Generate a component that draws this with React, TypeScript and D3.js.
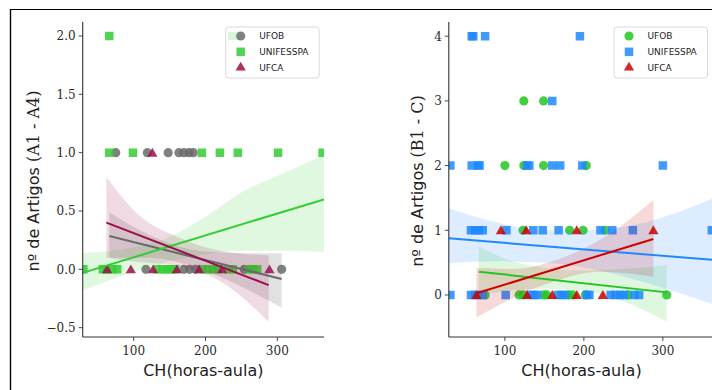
import React from "react";
import * as d3 from "d3";

// ---------- shared labels ----------
const xTicks = [100, 200, 300];
const yTicksA = [-0.5, 0, 0.5, 1.0, 1.5, 2.0];
const yTicksB = [0, 1, 2, 3, 4];
const groupNames = ["UFOB", "UNIFESSPA", "UFCA"];

// ---------- Panel A (A1 - A4) ----------
const ufobA_x = [75, 119, 148, 163, 170, 177, 183, 117, 170, 178, 186, 254, 306];
const ufobA_y = [1, 1, 1, 1, 1, 1, 1, 0, 0, 0, 0, 0, 0];
const unifA_x = [66, 66, 99, 195, 220, 245, 301, 363, 30, 57, 62, 70, 77, 133, 140, 146, 152, 158, 196, 203, 210, 217, 232, 238, 260, 266, 272];
const unifA_y = [2, 1, 1, 1, 1, 1, 1, 1, 0, 0, 0, 0, 0, 0, 0, 0, 0, 0, 0, 0, 0, 0, 0, 0, 0, 0, 0];
const ufcaA_x = [126, 63, 96, 127, 160, 191, 223, 289];
const ufcaA_y = [1, 0, 0, 0, 0, 0, 0, 0];

const ufobA_fitX = [66, 306];
const ufobA_fitY = [0.285, -0.083];
const unifA_fitX = [29, 365];
const unifA_fitY = [-0.03, 0.6];
const ufcaA_fitX = [62, 288];
const ufcaA_fitY = [0.4, -0.135];

const ufobA_bandX = [66, 120, 180, 240, 306];
const ufobA_bandLo = [0.1, 0.1, 0.03, -0.12, -0.33];
const ufobA_bandHi = [0.49, 0.3, 0.17, 0.14, 0.137];
const unifA_bandX = [29, 100, 150, 200, 250, 300, 365];
const unifA_bandLo = [-0.18, -0.02, 0.07, 0.13, 0.16, 0.16, 0.15];
const unifA_bandHi = [0.14, 0.19, 0.28, 0.45, 0.66, 0.8, 0.98];
const ufcaA_bandX = [62, 110, 160, 220, 288];
const ufcaA_bandLo = [0.1, 0.06, 0.03, -0.1, -0.45];
const ufcaA_bandHi = [0.79, 0.45, 0.28, 0.16, 0.12];

// ---------- Panel B (B1 - C) ----------
const ufobB_x = [124, 149, 100, 124, 149, 203, 123, 182, 199, 227, 75, 118, 123, 149, 153, 181, 186, 202, 256, 305];
const ufobB_y = [3, 3, 2, 2, 2, 2, 1, 1, 1, 1, 0, 0, 0, 0, 0, 0, 0, 0, 0, 0];
const unifB_x = [58, 60, 75, 195, 160, 31, 58, 66, 68, 128, 131, 160, 170, 198, 300, 57, 62, 67, 72, 102, 136, 148, 168, 221, 236, 262, 362, 31, 57, 62, 67, 72, 101, 133, 137, 141, 167, 172, 176, 204, 207, 234, 240, 246, 251, 264, 270];
const unifB_y = [4, 4, 4, 4, 3, 2, 2, 2, 2, 2, 2, 2, 2, 2, 2, 1, 1, 1, 1, 1, 1, 1, 1, 1, 1, 1, 1, 0, 0, 0, 0, 0, 0, 0, 0, 0, 0, 0, 0, 0, 0, 0, 0, 0, 0, 0, 0];
const ufcaB_x = [95, 127, 191, 288, 64, 128, 160, 191, 224];
const ufcaB_y = [1, 1, 1, 1, 0, 0, 0, 0, 0];

const ufobB_fitX = [67, 305];
const ufobB_fitY = [0.36, 0.04];
const unifB_fitX = [29, 365];
const unifB_fitY = [0.876, 0.54];
const ufcaB_fitX = [64, 288];
const ufcaB_fitY = [0.026, 0.866];

const ufobB_bandX = [67, 110, 150, 200, 250, 305];
const ufobB_bandLo = [0.0, 0.07, 0.1, 0.06, -0.1, -0.41];
const ufobB_bandHi = [0.75, 0.52, 0.42, 0.38, 0.4, 0.46];
const unifB_bandX = [29, 90, 150, 210, 270, 365];
const unifB_bandLo = [0.49, 0.52, 0.5, 0.4, 0.22, -0.15];
const unifB_bandHi = [1.34, 1.12, 1.0, 1.0, 1.1, 1.5];
const ufcaB_bandX = [64, 110, 160, 220, 288];
const ufcaB_bandLo = [-0.35, -0.05, 0.2, 0.36, 0.28];
const ufcaB_bandHi = [0.42, 0.4, 0.52, 0.85, 1.47];

type Shape = "circle" | "square" | "triangle";
interface Series {
  name: string;
  xs: number[];
  ys: number[];
  fitX: number[];
  fitY: number[];
  bandX: number[];
  bandLo: number[];
  bandHi: number[];
  color: string;
  shape: Shape;
  bandOpacity: number;
}

const shapes: Shape[] = ["circle", "square", "triangle"];
const colorsA = ["#6a6a6a", "#32CD32", "#9C0D4C"];
const colorsB = ["#22C622", "#1E88FF", "#CC0000"];

function mk(
  i: number,
  colors: string[],
  xs: number[], ys: number[], fx: number[], fy: number[],
  bx: number[], bl: number[], bh: number[]
): Series {
  return {
    name: groupNames[i], xs, ys, fitX: fx, fitY: fy, bandX: bx, bandLo: bl, bandHi: bh,
    color: colors[i], shape: shapes[i], bandOpacity: i === 0 && colors === colorsA ? 0.2 : 0.15,
  };
}

const seriesA: Series[] = [
  mk(0, colorsA, ufobA_x, ufobA_y, ufobA_fitX, ufobA_fitY, ufobA_bandX, ufobA_bandLo, ufobA_bandHi),
  mk(1, colorsA, unifA_x, unifA_y, unifA_fitX, unifA_fitY, unifA_bandX, unifA_bandLo, unifA_bandHi),
  mk(2, colorsA, ufcaA_x, ufcaA_y, ufcaA_fitX, ufcaA_fitY, ufcaA_bandX, ufcaA_bandLo, ufcaA_bandHi),
];
const seriesB: Series[] = [
  mk(0, colorsB, ufobB_x, ufobB_y, ufobB_fitX, ufobB_fitY, ufobB_bandX, ufobB_bandLo, ufobB_bandHi),
  mk(1, colorsB, unifB_x, unifB_y, unifB_fitX, unifB_fitY, unifB_bandX, unifB_bandLo, unifB_bandHi),
  mk(2, colorsB, ufcaB_x, ufcaB_y, ufcaB_fitX, ufcaB_fitY, ufcaB_bandX, ufcaB_bandLo, ufcaB_bandHi),
];

const symbolPath = (s: Shape) => {
  const t = s === "circle" ? d3.symbolCircle : s === "square" ? d3.symbolSquare : d3.symbolTriangle;
  const size = s === "circle" ? 66 : s === "square" ? 72 : 46;
  return d3.symbol().type(t).size(size)() as string;
};

const SERIF = "'DejaVu Serif', 'Liberation Serif', serif";
const SANS = "'DejaVu Sans', sans-serif";

interface PanelProps {
  id: string;
  px: [number, number];
  py: [number, number];
  xDomain: [number, number];
  yDomain: [number, number];
  yTicks: number[];
  yFmt: (v: number) => string;
  series: Series[];
  ylabelSans: string;
  ylabelSerif: string;
  ylabelX: number;
  legendX: number;
  legendPatch?: string;
}

function Panel(p: PanelProps) {
  const x = d3.scaleLinear().domain(p.xDomain).range(p.px);
  const y = d3.scaleLinear().domain(p.yDomain).range(p.py);
  const [L, R] = p.px;
  const [B, T] = p.py;
  const line = d3.line<number>();
  const area = d3
    .area<number>()
    .curve(d3.curveMonotoneX);
  const clipId = `clip-${p.id}`;
  const axisColor = "#333";
  const legendW = 93.5;
  const lx = p.legendX;
  return (
    <g>
      <defs>
        <clipPath id={clipId}>
          <rect x={L} y={T} width={R - L} height={B - T} />
        </clipPath>
      </defs>
      <g clipPath={`url(#${clipId})`}>
        {p.series.map((s) => {
          const idx = s.bandX.map((_, i) => i);
          const bandD = area
            .x((i) => x(s.bandX[i]))
            .y0((i) => y(s.bandLo[i]))
            .y1((i) => y(s.bandHi[i]))(idx) as string;
          return (
            <g key={s.name}>
              {s.xs.map((xv, i) => (
                <path
                  key={i}
                  d={symbolPath(s.shape)}
                  transform={`translate(${x(xv)},${y(s.ys[i]) + (s.shape === "triangle" ? 1 : 0)})`}
                  fill={s.color}
                  fillOpacity={0.85}
                />
              ))}
              <path d={bandD} fill={s.color} fillOpacity={s.bandOpacity} stroke="none" />
            </g>
          );
        })}
        {p.series.map((s) => (
          <path
            key={s.name + "-line"}
            d={line.x((i) => x(s.fitX[i])).y((i) => y(s.fitY[i]))(s.fitX.map((_, i) => i)) as string}
            fill="none"
            stroke={s.color}
            strokeWidth={2}
          />
        ))}
      </g>
      {/* spines */}
      <line x1={L} x2={L} y1={T} y2={B} stroke={axisColor} strokeWidth={1.1} />
      <line x1={L} x2={R} y1={B} y2={B} stroke={axisColor} strokeWidth={1.1} />
      {p.yTicks.map((t) => (
        <g key={"y" + t}>
          <line x1={L - 4} x2={L} y1={y(t)} y2={y(t)} stroke={axisColor} strokeWidth={0.9} />
          <text
            x={L - 7}
            y={y(t)}
            dy="0.36em"
            textAnchor="end"
            fontFamily={SERIF}
            fontSize={12}
            fill="#2a2a2a"
          >
            {p.yFmt(t)}
          </text>
        </g>
      ))}
      {xTicks.map((t) => (
        <g key={"x" + t}>
          <line x1={x(t)} x2={x(t)} y1={B} y2={B + 4} stroke={axisColor} strokeWidth={0.9} />
          <text x={x(t)} y={B + 18} textAnchor="middle" fontFamily={SERIF} fontSize={12} fill="#2a2a2a">
            {t}
          </text>
        </g>
      ))}
      <text x={(L + R) / 2} y={376} textAnchor="middle" fontFamily={SANS} fontSize={16} fill="#222">
        CH(horas-aula)
      </text>
      <text
        transform={`translate(${p.ylabelX},${181}) rotate(-90)`}
        textAnchor="middle"
        fontSize={16}
        fill="#222"
      >
        <tspan fontFamily={SANS}>{p.ylabelSans}</tspan>
        <tspan fontFamily={SERIF}>{p.ylabelSerif}</tspan>
      </text>
      {/* legend */}
      <rect x={lx} y={27} width={legendW} height={51} rx={3} fill="#fff" fillOpacity={0.8} stroke="#d0d0d0" strokeWidth={0.8} />
      {p.legendPatch && (
        <rect x={lx + 2.5} y={32} width={9} height={8} fill={p.legendPatch} fillOpacity={0.18} />
      )}
      {p.series.map((s, i) => (
        <g key={"leg" + s.name}>
          <path
            d={symbolPath(s.shape)}
            transform={`translate(${lx + 15},${36 + i * 15.8})`}
            fill={s.color}
            fillOpacity={0.85}
          />
          <text x={lx + 33.5} y={36 + i * 15.8} dy="0.35em" fontFamily={SANS} fontSize={9} fill="#222">
            {s.name}
          </text>
        </g>
      ))}
    </g>
  );
}

export default function App() {
  return (
    <svg
      width={712}
      height={390}
      style={{ position: "absolute", left: 0, top: 0, background: "#fff" }}
    >
      <rect x={0} y={0} width={712} height={390} fill="#fff" />
      <line x1={10} x2={712} y1={9.5} y2={9.5} stroke="#000" strokeWidth={1.2} />
      <line x1={10.5} x2={10.5} y1={9} y2={390} stroke="#000" strokeWidth={1.4} />
      <Panel
        id="a"
        px={[82.7, 324]}
        py={[337, 22]}
        xDomain={[29, 365]}
        yDomain={[-0.58, 2.12]}
        yTicks={yTicksA}
        yFmt={(v) => (v < 0 ? "\u2212" : "") + Math.abs(v).toFixed(1)}
        series={seriesA}
        ylabelSans={"n\u00BA de Artigos "}
        ylabelSerif={"(A1 - A4)"}
        ylabelX={39}
        legendX={225.7}
        legendPatch="#32CD32"
      />
      <Panel
        id="b"
        px={[448.8, 714.2]}
        py={[337, 22]}
        xDomain={[29, 365]}
        yDomain={[-0.65, 4.22]}
        yTicks={yTicksB}
        yFmt={(v) => String(v)}
        series={seriesB}
        ylabelSans={"n\u00BA de Artigos "}
        ylabelSerif={"(B1 - C)"}
        ylabelX={423}
        legendX={614}
      />
    </svg>
  );
}
